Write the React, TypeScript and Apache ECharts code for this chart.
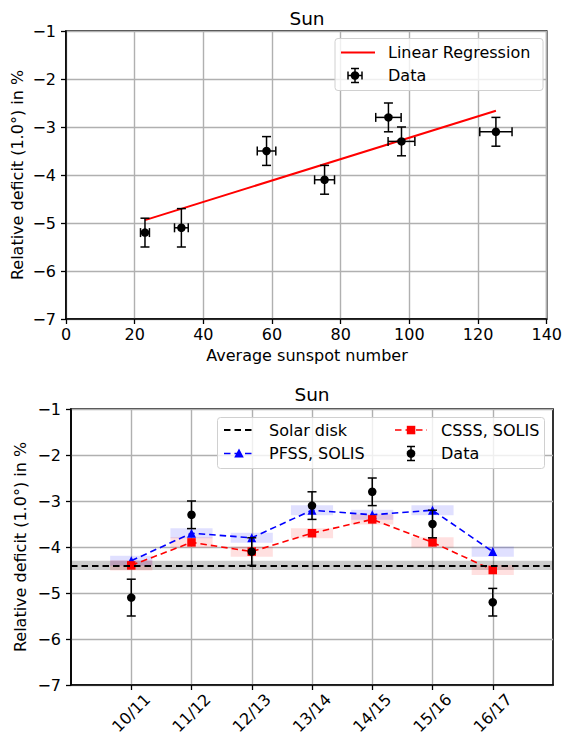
import React, { useEffect, useRef } from "react";
import * as echarts from "echarts";

// ---- Top panel: deficit vs. sunspot number ----
const sunspotNumber = [23.0, 33.6, 58.4, 75.3, 93.9, 97.7, 125.2];
const sunspotErr = [1.3, 2.0, 2.7, 2.9, 3.7, 3.9, 4.7];
const deficitVsSunspot = [-5.2, -5.1, -3.5, -4.1, -2.8, -3.3, -3.1];
const deficitVsSunspotErr = [0.3, 0.4, 0.3, 0.3, 0.3, 0.3, 0.3];
const regressionX = [23.0, 125.2];
const regressionY = [-4.94, -2.66];

// ---- Bottom panel: deficit per season ----
const seasons = ["10/11", "11/12", "12/13", "13/14", "14/15", "15/16", "16/17"];
const deficitData = [-5.1, -3.3, -4.1, -3.1, -2.8, -3.5, -5.2];
const deficitDataErr = [0.4, 0.3, 0.3, 0.3, 0.3, 0.3, 0.3];
const pfssSolis = [-4.3, -3.7, -3.8, -3.2, -3.3, -3.2, -4.1];
const csssSolis = [-4.4, -3.9, -4.1, -3.7, -3.4, -3.9, -4.5];
const solarDisk = -4.4;
const solarDiskErr = 0.1;
const modelErr = 0.11;
const seasonTicks = [1, 2, 3, 4, 5, 6, 7];

const FONT = "DejaVu Sans";
const FS = 16;
const minus = (v: number) => String(v).replace("-", "\u2212");

const gridLine = { show: true, lineStyle: { color: "#b0b0b0", width: 1.4 } };
const axisLine = { show: true, onZero: false, lineStyle: { color: "#000", width: 1.6 } };
const axisTick = { show: true, inside: false, length: 5, lineStyle: { color: "#000", width: 1.3 } };

function errorBars(xErr: number[] | null, yErr: number[] | null) {
  return (params: any, api: any) => {
    const i = params.dataIndex;
    const x = api.value(0);
    const y = api.value(1);
    const style = { stroke: "#000", lineWidth: 1.5 };
    const cap = 4.5;
    const children: any[] = [];
    if (yErr) {
      const t = api.coord([x, y + yErr[i]]);
      const b = api.coord([x, y - yErr[i]]);
      children.push({ type: "line", shape: { x1: t[0], y1: t[1], x2: b[0], y2: b[1] }, style });
      children.push({ type: "line", shape: { x1: t[0] - cap, y1: t[1], x2: t[0] + cap, y2: t[1] }, style });
      children.push({ type: "line", shape: { x1: b[0] - cap, y1: b[1], x2: b[0] + cap, y2: b[1] }, style });
    }
    if (xErr) {
      const l = api.coord([x - xErr[i], y]);
      const r = api.coord([x + xErr[i], y]);
      children.push({ type: "line", shape: { x1: l[0], y1: l[1], x2: r[0], y2: r[1] }, style });
      children.push({ type: "line", shape: { x1: l[0], y1: l[1] - cap, x2: l[0], y2: l[1] + cap }, style });
      children.push({ type: "line", shape: { x1: r[0], y1: r[1] - cap, x2: r[0], y2: r[1] + cap }, style });
    }
    return { type: "group", children };
  };
}

function bandRects(color: string) {
  return (params: any, api: any) => {
    const x = api.value(0);
    const y = api.value(1);
    const p1 = api.coord([x - 0.35, y + modelErr]);
    const p2 = api.coord([x + 0.35, y - modelErr]);
    return {
      type: "rect",
      shape: { x: p1[0], y: p1[1], width: p2[0] - p1[0], height: p2[1] - p1[1] },
      style: { fill: color },
    };
  };
}

function legendErrMarker(cx: number, cy: number, withX: boolean) {
  const s = { stroke: "#000", lineWidth: 1.5 };
  const z = 102;
  const els: any[] = [
    { type: "line", z, shape: { x1: cx, y1: cy - 7, x2: cx, y2: cy + 7 }, style: s },
    { type: "line", z, shape: { x1: cx - 4, y1: cy - 7, x2: cx + 4, y2: cy - 7 }, style: s },
    { type: "line", z, shape: { x1: cx - 4, y1: cy + 7, x2: cx + 4, y2: cy + 7 }, style: s },
    { type: "circle", z: 103, shape: { cx, cy, r: 4.3 }, style: { fill: "#000" } },
  ];
  if (withX) {
    els.push({ type: "line", z, shape: { x1: cx - 7, y1: cy, x2: cx + 7, y2: cy }, style: s });
    els.push({ type: "line", z, shape: { x1: cx - 7, y1: cy - 4, x2: cx - 7, y2: cy + 4 }, style: s });
    els.push({ type: "line", z, shape: { x1: cx + 7, y1: cy - 4, x2: cx + 7, y2: cy + 4 }, style: s });
  }
  return els;
}

function txt(text: string, x: number, y: number, extra: any = {}) {
  return {
    type: "text",
    x,
    y,
    z: 101,
    style: { text, fill: "#000", font: `${FS}px "${FONT}"`, verticalAlign: "middle", align: "left", ...extra },
  };
}

export default function App() {
  const ref = useRef<HTMLDivElement>(null);
  useEffect(() => {
    if (!ref.current) return;
    const chart = echarts.init(ref.current, undefined, { renderer: "svg" });
    const topPts = sunspotNumber.map((x, i) => [x, deficitVsSunspot[i]]);
    const botPts = seasons.map((_, i) => [i + 1, deficitData[i]]);
    const pfssPts = seasons.map((_, i) => [i + 1, pfssSolis[i]]);
    const csssPts = seasons.map((_, i) => [i + 1, csssSolis[i]]);

    const yAxisCommon = {
      type: "value",
      min: -7,
      max: -1,
      interval: 1,
      axisLine,
      axisTick,
      splitLine: gridLine,
      axisLabel: { color: "#000", fontFamily: FONT, fontSize: FS, margin: 10, formatter: minus },
    };

    chart.setOption({
      animation: false,
      backgroundColor: "#fff",
      grid: [
        { left: 66, top: 31, width: 482, height: 288, show: true, borderColor: "#000", borderWidth: 1.6, backgroundColor: "transparent" },
        { left: 71, top: 409, width: 482, height: 276, show: true, borderColor: "#000", borderWidth: 1.6, backgroundColor: "transparent" },
      ],
      xAxis: [
        {
          gridIndex: 0,
          type: "value",
          min: 0,
          max: 140,
          interval: 20,
          axisLine,
          axisTick,
          splitLine: gridLine,
          axisLabel: { color: "#000", fontFamily: FONT, fontSize: FS, margin: 7 },
        },
        {
          gridIndex: 1,
          type: "value",
          min: 0,
          max: 8,
          interval: 1,
          axisLine,
          axisTick: { ...axisTick, customValues: seasonTicks },
          splitLine: gridLine,
          axisLabel: {
            color: "#000",
            fontFamily: FONT,
            fontSize: FS,
            margin: 28,
            rotate: 45,
            align: "center",
            verticalAlign: "middle",
            customValues: seasonTicks,
            formatter: (v: number) => seasons[v - 1] ?? "",
          },
        },
      ],
      yAxis: [
        { gridIndex: 0, ...yAxisCommon },
        { gridIndex: 1, ...yAxisCommon },
      ],
      series: [
        {
          type: "line",
          xAxisIndex: 0,
          yAxisIndex: 0,
          data: regressionX.map((x, i) => [x, regressionY[i]]),
          symbol: "none",
          lineStyle: { color: "#ff0000", width: 2 },
          z: 2,
        },
        {
          type: "custom",
          xAxisIndex: 0,
          yAxisIndex: 0,
          data: topPts,
          renderItem: errorBars(sunspotErr, deficitVsSunspotErr),
          z: 3,
        },
        {
          type: "scatter",
          xAxisIndex: 0,
          yAxisIndex: 0,
          data: topPts,
          symbol: "circle",
          symbolSize: 8.5,
          itemStyle: { color: "#000", opacity: 1 },
          z: 4,
        },
        // bottom panel
        {
          type: "line",
          xAxisIndex: 1,
          yAxisIndex: 1,
          data: [],
          markArea: {
            silent: true,
            itemStyle: { color: "rgba(0,0,0,0.2)" },
            data: [[{ yAxis: solarDisk + solarDiskErr }, { yAxis: solarDisk - solarDiskErr }]],
          },
          markLine: {
            silent: true,
            symbol: "none",
            label: { show: false },
            lineStyle: { color: "#000", type: [6.5, 4], width: 2 },
            data: [{ yAxis: solarDisk }],
          },
          z: 2,
        },
        {
          type: "custom",
          xAxisIndex: 1,
          yAxisIndex: 1,
          data: pfssPts,
          renderItem: bandRects("rgba(0,0,255,0.12)"),
          z: 2,
        },
        {
          type: "custom",
          xAxisIndex: 1,
          yAxisIndex: 1,
          data: csssPts,
          renderItem: bandRects("rgba(255,0,0,0.12)"),
          z: 2,
        },
        {
          type: "line",
          xAxisIndex: 1,
          yAxisIndex: 1,
          data: pfssPts,
          symbol: "triangle",
          symbolSize: 9,
          itemStyle: { color: "#0000ff", opacity: 1 },
          lineStyle: { color: "#0000ff", width: 1.6, type: [6.5, 4] },
          z: 3,
        },
        {
          type: "line",
          xAxisIndex: 1,
          yAxisIndex: 1,
          data: csssPts,
          symbol: "rect",
          symbolSize: 8.5,
          itemStyle: { color: "#ff0000", opacity: 1 },
          lineStyle: { color: "#ff0000", width: 1.6, type: [6.5, 4] },
          z: 4,
        },
        {
          type: "custom",
          xAxisIndex: 1,
          yAxisIndex: 1,
          data: botPts,
          renderItem: errorBars(null, deficitDataErr),
          z: 5,
        },
        {
          type: "scatter",
          xAxisIndex: 1,
          yAxisIndex: 1,
          data: botPts,
          symbol: "circle",
          symbolSize: 8.5,
          itemStyle: { color: "#000", opacity: 1 },
          z: 6,
        },
      ],
      graphic: [
        // titles
        txt("Sun", 307, 18.5, { align: "center", font: `18.5px "${FONT}"` }),
        txt("Sun", 312, 394.5, { align: "center", font: `18.5px "${FONT}"` }),
        // axis names
        txt("Average sunspot number", 307, 355.5, { align: "center" }),
        { ...txt("Relative deficit (1.0°) in %", 0, 0, { align: "center" }), x: 17, y: 175, rotation: Math.PI / 2 },
        { ...txt("Relative deficit (1.0°) in %", 0, 0, { align: "center" }), x: 20.5, y: 547, rotation: Math.PI / 2 },
        // top legend
        {
          type: "rect",
          shape: { x: 335, y: 38.5, width: 208, height: 52, r: 3 },
          style: { fill: "rgba(255,255,255,0.8)", stroke: "#d0d0d0", lineWidth: 1 },
          z: 100,
        },
        { type: "line", shape: { x1: 341, y1: 52.5, x2: 375, y2: 52.5 }, style: { stroke: "#ff0000", lineWidth: 2 }, z: 101 },
        txt("Linear Regression", 388, 52.5),
        ...legendErrMarker(355, 75.5, true),
        txt("Data", 388, 75.5),
        // bottom legend
        {
          type: "rect",
          shape: { x: 217.5, y: 417.5, width: 327, height: 51, r: 3 },
          style: { fill: "rgba(255,255,255,0.8)", stroke: "#d0d0d0", lineWidth: 1 },
          z: 100,
        },
        { type: "line", shape: { x1: 224, y1: 430, x2: 254, y2: 430 }, style: { stroke: "#000", lineWidth: 2, lineDash: [6.5, 4] }, z: 101 },
        txt("Solar disk", 269, 430),
        { type: "line", shape: { x1: 224, y1: 453.5, x2: 254, y2: 453.5 }, style: { stroke: "#0000ff", lineWidth: 1.6, lineDash: [6.5, 4] }, z: 101 },
        { type: "polygon", shape: { points: [[239, 448.5], [243.8, 457.5], [234.2, 457.5]] }, style: { fill: "#0000ff" }, z: 102 },
        txt("PFSS, SOLIS", 269, 453.5),
        { type: "line", shape: { x1: 395, y1: 430, x2: 427, y2: 430 }, style: { stroke: "#ff0000", lineWidth: 1.6, lineDash: [6.5, 4] }, z: 101 },
        { type: "rect", shape: { x: 406.8, y: 425.8, width: 8.5, height: 8.5 }, style: { fill: "#ff0000" }, z: 102 },
        txt("CSSS, SOLIS", 441, 430),
        ...legendErrMarker(411, 453.5, false),
        txt("Data", 441, 453.5),
      ],
    });
    return () => chart.dispose();
  }, []);
  return (
    <div
      ref={ref}
      style={{ position: "absolute", left: 0, top: 0, width: 565, height: 740, background: "#fff" }}
    />
  );
}
